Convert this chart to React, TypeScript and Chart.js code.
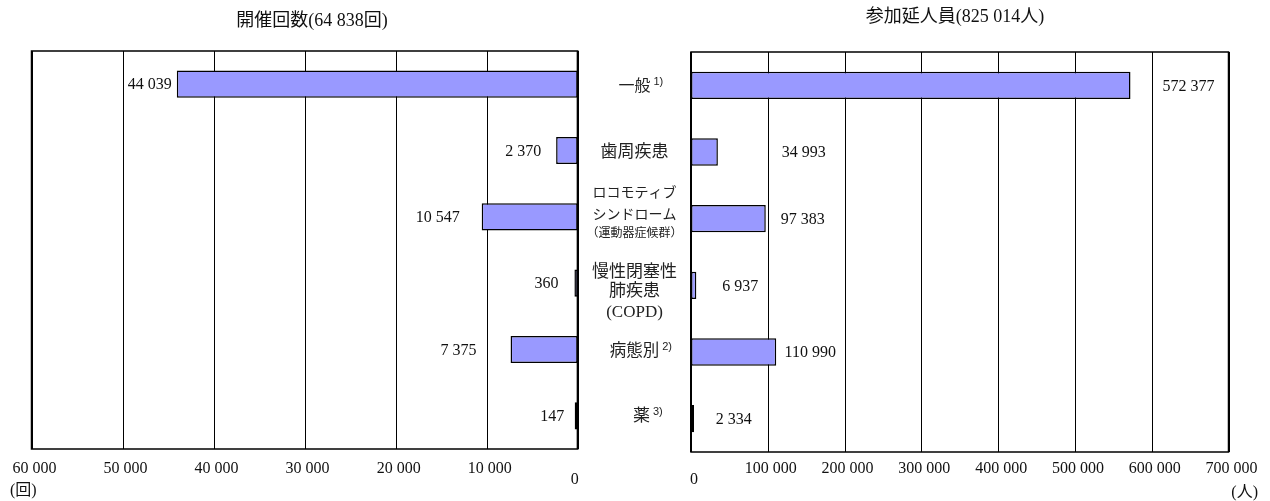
import React, { useEffect, useRef } from 'react';
import { Chart, registerables } from 'chart.js';

Chart.register(...registerables);

// ---------------- data ----------------
const categories = ['一般', '歯周疾患', 'ロコモティブシンドローム(運動器症候群)', '慢性閉塞性肺疾患(COPD)', '病態別', '薬'];
const sessionCounts = [44039, 2370, 10547, 360, 7375, 147];
const participantCounts = [572377, 34993, 97383, 6937, 110990, 2334];
const sessionTicks = [0, 10000, 20000, 30000, 40000, 50000, 60000];
const participantTicks = [0, 100000, 200000, 300000, 400000, 500000, 600000, 700000];
const sessionTitle = '開催回数(64 838回)';
const participantTitle = '参加延人員(825 014人)';
const sessionUnit = '(回)';
const participantUnit = '(人)';
const categoryLines = [
  ['一般'],
  ['歯周疾患'],
  ['ロコモティブ', 'シンドローム', '（運動器症候群）'],
  ['慢性閉塞性', '肺疾患', '(COPD)'],
  ['病態別'],
  ['薬'],
];
const categoryNotes = ['1)', '', '', '', '2)', '3)'];

// ---------------- style ----------------
const W = 1270;
const H = 501;
const BAR_FILL = '#9999FF';
const BAR_EDGE = '#000000';
const SERIF = "'Liberation Serif', 'DejaVu Serif', 'Noto Sans CJK JP', serif";
const SANS_JP = "'Noto Sans CJK JP', 'Noto Sans', sans-serif";
const COL_CENTER = 634.5;
const sessionLabelDx = [-27, -33, -44, -28, -52, -24];
const participantLabelDx = [58, 86, 37, 44, 34, 41];
// per category line: [font size, dy, family]
const categoryLineStyle: [number, number, string][][] = [
  [[16, 1, SANS_JP]],
  [[17, 0, SANS_JP]],
  [[14, -25, SANS_JP], [14, -3, SANS_JP], [12, 16, SANS_JP]],
  [[17, -13, SANS_JP], [17, 6, SANS_JP], [17, 29, SERIF]],
  [[16.5, 0, SANS_JP]],
  [[17, -1, SANS_JP]],
];

function fmt(n: number): string {
  return String(n).replace(/\B(?=(\d{3})+(?!\d))/g, ' ');
}

function makeConfig(side: 'left' | 'right'): any {
  const isLeft = side === 'left';
  const values = isLeft ? sessionCounts : participantCounts;
  const ticks = isLeft ? sessionTicks : participantTicks;
  const dxs = isLeft ? sessionLabelDx : participantLabelDx;
  const padding = isLeft
    ? { left: 31.5, right: W - 577.7, top: 51, bottom: H - 449 }
    : { left: 691, right: W - 1228.5, top: 52, bottom: H - 452 };

  const deco = {
    id: 'deco-' + side,
    beforeDatasetsDraw(chart: any) {
      const ctx = chart.ctx;
      const xs = chart.scales.x;
      const a = chart.chartArea;
      ctx.save();
      ctx.strokeStyle = '#000';
      ctx.lineWidth = 1;
      for (const t of ticks) {
        const x = Math.round(xs.getPixelForValue(t)) + 0.5;
        ctx.beginPath();
        ctx.moveTo(x, a.top);
        ctx.lineTo(x, a.bottom);
        ctx.stroke();
      }
      ctx.lineWidth = 1.5;
      ctx.strokeRect(a.left, a.top, a.right - a.left, a.bottom - a.top);
      ctx.restore();
    },
    afterDatasetsDraw(chart: any) {
      const ctx = chart.ctx;
      const xs = chart.scales.x;
      const ys = chart.scales.y;
      const a = chart.chartArea;
      ctx.save();
      // zero axis
      const x0 = xs.getPixelForValue(0);
      ctx.strokeStyle = '#000';
      ctx.lineWidth = 2;
      ctx.beginPath();
      ctx.moveTo(x0, a.top);
      ctx.lineTo(x0, a.bottom);
      ctx.stroke();

      // value labels
      ctx.fillStyle = '#111';
      ctx.font = `16px ${SERIF}`;
      ctx.textAlign = 'center';
      ctx.textBaseline = 'middle';
      values.forEach((v, i) => {
        const xe = xs.getPixelForValue(v);
        const y = ys.getPixelForValue(i);
        ctx.fillText(fmt(v), xe + dxs[i], y + 1);
      });

      // tick labels
      ticks.forEach((t) => {
        const x = xs.getPixelForValue(t);
        if (t === 0) {
          ctx.fillText('0', isLeft ? x - 3 : x + 3, 480);
        } else {
          ctx.fillText(fmt(t), x + 3, 469);
        }
      });

      // unit
      ctx.textAlign = isLeft ? 'left' : 'right';
      ctx.fillText(isLeft ? sessionUnit : participantUnit, isLeft ? 10 : 1258, isLeft ? 491 : 493);

      // title
      ctx.textAlign = 'center';
      ctx.font = `18px ${SERIF}`;
      ctx.fillText(isLeft ? sessionTitle : participantTitle, isLeft ? 312 : 955, isLeft ? 21 : 17);

      // category labels (drawn once, with the left panel)
      if (isLeft) {
        ctx.fillStyle = '#222';
        categoryLines.forEach((lines, i) => {
          const yc = ys.getPixelForValue(i);
          lines.forEach((txt, j) => {
            const [size, dy, fam] = categoryLineStyle[i][j];
            ctx.font = `${size}px ${fam}`;
            ctx.textAlign = 'center';
            const cx = i === 5 ? COL_CENTER + 7 : COL_CENTER;
            ctx.fillText(txt, cx, yc + dy);
            if (categoryNotes[i] && j === 0) {
              const w = ctx.measureText(txt).width;
              ctx.font = `11px 'Liberation Sans', 'Noto Sans', sans-serif`;
              ctx.textAlign = 'left';
              ctx.fillText(categoryNotes[i], cx + w / 2 + 3, yc + dy - 3);
            }
          });
        });
      }
      ctx.restore();
    },
  };

  return {
    type: 'bar',
    data: {
      labels: categories,
      datasets: [
        {
          data: values,
          backgroundColor: BAR_FILL,
          borderColor: BAR_EDGE,
          borderWidth: 1.5,
          borderSkipped: false,
          barPercentage: 0.41,
          categoryPercentage: 1,
          minBarLength: 3,
        },
      ],
    },
    options: {
      indexAxis: 'y',
      responsive: false,
      maintainAspectRatio: false,
      animation: false,
      devicePixelRatio: 1,
      layout: { padding },
      scales: {
        x: {
          display: false,
          min: 0,
          max: ticks[ticks.length - 1],
          reverse: isLeft,
        },
        y: { display: false },
      },
      plugins: {
        legend: { display: false },
        tooltip: { enabled: false },
        title: { display: false },
      },
    },
    plugins: [deco],
  };
}

export default function App() {
  const leftRef = useRef<HTMLCanvasElement | null>(null);
  const rightRef = useRef<HTMLCanvasElement | null>(null);

  useEffect(() => {
    const charts: Chart[] = [];
    if (leftRef.current) charts.push(new Chart(leftRef.current, makeConfig('left')));
    if (rightRef.current) charts.push(new Chart(rightRef.current, makeConfig('right')));
    return () => charts.forEach((c) => c.destroy());
  }, []);

  const canvasStyle: React.CSSProperties = {
    position: 'absolute',
    left: 0,
    top: 0,
    width: W,
    height: H,
  };

  return (
    <div style={{ position: 'absolute', left: 0, top: 0, width: W, height: H, background: '#fff' }}>
      <canvas ref={leftRef} width={W} height={H} style={canvasStyle} />
      <canvas ref={rightRef} width={W} height={H} style={canvasStyle} />
    </div>
  );
}
